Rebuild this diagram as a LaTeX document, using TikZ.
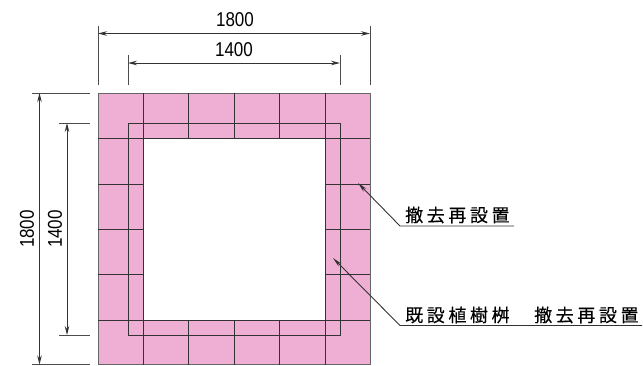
\documentclass[tikz,border=0pt]{standalone}
\usepackage{fontspec}
\setmainfont[FakeStretch=0.85]{Liberation Sans}
\newfontfamily\cjk[LetterSpace=20,FakeBold=0.25]{Noto Sans CJK JP}
\usetikzlibrary{arrows.meta}
\definecolor{planpink}{RGB}{239,174,211}
\tikzstyle{block} = [draw=black!60, line width=1pt, fill=planpink, even odd rule]
\tikzstyle{joint} = [draw=black!80, line width=1pt]
\tikzstyle{extline} = [draw=black!70, line width=1pt]
\tikzstyle{dimarrow} = [draw=black!80, line width=1pt, {Stealth[length=9pt,width=4.5pt]}-{Stealth[length=9pt,width=4.5pt]}]
\tikzstyle{leader} = [draw=black!80, line width=0.9pt, {Stealth[length=10pt,width=4pt]}-]
\tikzstyle{dimlabel} = [inner sep=0pt, font=\fontsize{20}{20}\selectfont]
\tikzstyle{notelabel} = [inner sep=0pt, anchor=west, font=\fontsize{18}{18}\cjk]

\begin{document}
\begin{tikzpicture}[x=1pt, y=-1pt]
    \useasboundingbox (0,0) rectangle (643,365);
    % ring of blocks
    \path [block] (98,93) rectangle (370,364.5) (143,138) rectangle (325,320);
    % joints, top and bottom rows
    \draw [joint] (143,93) -- (143,320) (188,93) -- (188,138) (234,93) -- (234,138) (279,93) -- (279,138) (325,93) -- (325,320);
    \draw [joint] (143,320) -- (143,364.5) (188,320) -- (188,364.5) (234,320) -- (234,364.5) (279,320) -- (279,364.5) (325,320) -- (325,364.5);
    \draw [joint] (98,138) -- (370,138) (98,320) -- (370,320);
    % joints, side columns
    \draw [joint] (98,184) -- (143,184) (98,229) -- (143,229) (98,274) -- (143,274);
    \draw [joint] (325,184) -- (370,184) (325,229) -- (370,229) (325,274) -- (370,274);
    % existing planter
    \draw [joint] (128,123) rectangle (340,335);

    % width dimensions
    \coordinate (OuterL) at (98,33.5);
    \coordinate (OuterR) at (370,33.5);
    \coordinate (InnerL) at (128,63);
    \coordinate (InnerR) at (340,63);
    \draw [extline] (98,26) -- (98,85) (370,26) -- (370,85) (128,55) -- (128,85) (340,55) -- (340,85);
    \draw [dimarrow] (OuterL) -- (OuterR);
    \draw [dimarrow] (InnerL) -- (InnerR);
    \node (WidthOuter) [dimlabel] at (235,20) {1800};
    \node (WidthInner) [dimlabel] at (234,50) {1400};

    % height dimensions
    \coordinate (OuterT) at (39.5,93);
    \coordinate (OuterB) at (39.5,364.5);
    \coordinate (InnerT) at (67,123);
    \coordinate (InnerB) at (67,335);
    \draw [extline] (32,93) -- (90,93) (32,364.5) -- (90,364.5) (59,123) -- (90,123) (59,335) -- (90,335);
    \draw [dimarrow] (OuterT) -- (OuterB);
    \draw [dimarrow] (InnerT) -- (InnerB);
    \node (HeightOuter) [dimlabel, rotate=90] at (27,229) {1800};
    \node (HeightInner) [dimlabel, rotate=90] at (55,229) {1400};

    % notes
    \coordinate (TipA) at (358,183);
    \coordinate (BendA) at (400,226);
    \coordinate (EndA) at (514,226);
    \coordinate (TipB) at (333,258);
    \coordinate (BendB) at (400,325.5);
    \coordinate (EndB) at (642,325.5);
    \draw [leader] (TipA) -- (BendA) -- (EndA);
    \draw [leader] (TipB) -- (BendB) -- (EndB);
    \node (NoteA) [notelabel] at (405,215) {撤去再設置};
    \node (NoteB) [notelabel] at (405,315) {既設植樹桝};
    \node (NoteC) [notelabel] at (534,315) {撤去再設置};
\end{tikzpicture}
\end{document}
